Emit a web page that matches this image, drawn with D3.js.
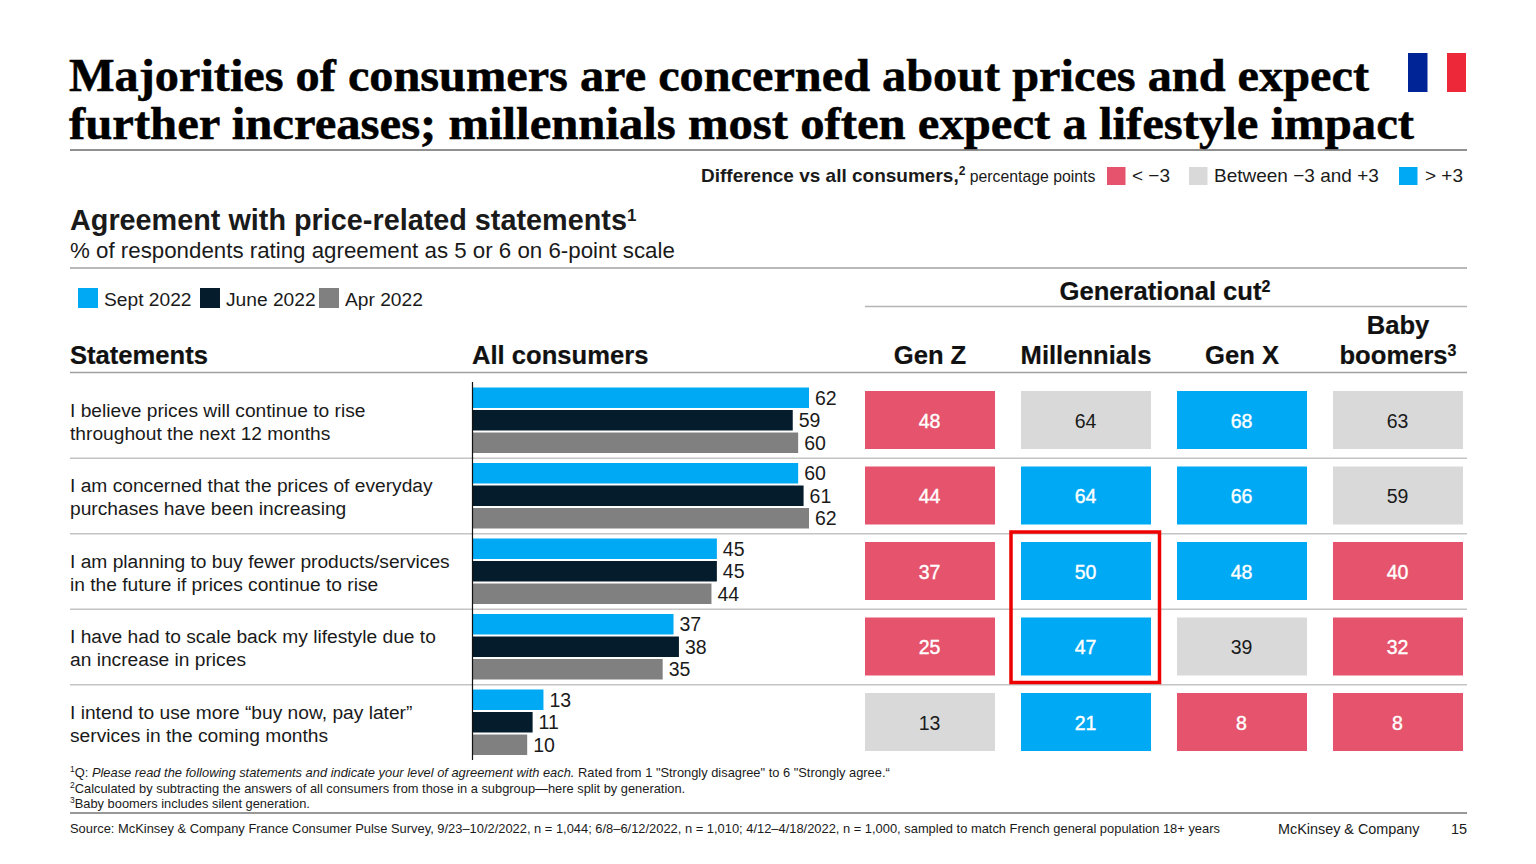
<!DOCTYPE html>
<html>
<head>
<meta charset="utf-8">
<script src="https://cdn.jsdelivr.net/npm/d3@7"></script>
<style>
    html, body { margin: 0; padding: 0; background: #fff; overflow: hidden; }
    svg { display: block; }
    text { font-family: "Liberation Sans", Arial, sans-serif; fill: #1a1a1a; }
    .title { font-family: "Liberation Serif", serif; font-weight: bold; font-size: 45.5px; fill: #000; stroke: #000; stroke-width: 0.5; }
    .head { font-weight: bold; font-size: 25.6px; fill: #111; stroke: #111; stroke-width: 0.2; }
</style>
</head>
<body>
<div id="chart"></div>
<script>
// data
const statements = [
    ["I believe prices will continue to rise", "throughout the next 12 months"],
    ["I am concerned that the prices of everyday", "purchases have been increasing"],
    ["I am planning to buy fewer products/services", "in the future if prices continue to rise"],
    ["I have had to scale back my lifestyle due to", "an increase in prices"],
    ["I intend to use more \u201Cbuy now, pay later\u201D", "services in the coming months"]
];
const waves = ["Sept 2022", "June 2022", "Apr 2022"];
const sept2022 = [62, 60, 45, 37, 13];
const june2022 = [59, 61, 45, 38, 11];
const apr2022 = [60, 62, 44, 35, 10];

const generations = ["Gen Z", "Millennials", "Gen X", "Baby boomers"];
const genZ = [48, 44, 37, 25, 13];
const millennials = [64, 64, 50, 47, 21];
const genX = [68, 66, 48, 39, 8];
const boomers = [63, 59, 40, 32, 8];

// difference class per cell: -1 below -3, 0 between, 1 above +3
const genZClass = [-1, -1, -1, -1, 0];
const millennialsClass = [0, 1, 1, 1, 1];
const genXClass = [1, 1, 1, 0, -1];
const boomersClass = [0, 0, -1, -1, -1];

const diffLabels = ["< \u22123", "Between \u22123 and +3", "> +3"];

const blue = "#00a9f4", navy = "#051c2c", grey = "#808080";
const red = "#e5546c", lightGrey = "#d9d9d9";

const svg = d3.select("#chart").append("svg").attr("width", 1536).attr("height", 864);

// text helper, parts are [string, {options}]
function label(x, y, parts, opts) {
    opts = opts || {};
    let t = svg.append("text").attr("x", x).attr("y", y)
        .attr("font-size", opts.size)
        .attr("font-weight", opts.weight)
        .attr("text-anchor", opts.anchor)
        .attr("class", opts.cls);
    if (opts.fill) t.style("fill", opts.fill);
    if (opts.fit) t.attr("textLength", opts.fit).attr("lengthAdjust", "spacingAndGlyphs");
    (typeof parts === "string" ? [[parts]] : parts).forEach(p => {
        let o = p[1] || {};
        let s = t.append("tspan").text(p[0]);
        if (o.sup) s.attr("baseline-shift", "super").attr("font-size", o.sup);
        if (o.italic) s.attr("font-style", "italic");
        if (o.weight) s.attr("font-weight", o.weight);
        if (o.size) s.attr("font-size", o.size);
    });
    return t;
}

function rule(x1, x2, y, color, w) {
    svg.append("line").attr("x1", x1).attr("x2", x2).attr("y1", y).attr("y2", y)
        .attr("stroke", color).attr("stroke-width", w);
}

// title, Georgia is not installed so the serif is stretched to the same width
label(69, 91, "Majorities of consumers are concerned about prices and expect", {cls: "title", fit: 1300});
label(69, 139, "further increases; millennials most often expect a lifestyle impact", {cls: "title", fit: 1345});
rule(70, 1467, 150, "#222", 1.2);

// flag
svg.append("rect").attr("x", 1408).attr("y", 53).attr("width", 19.5).attr("height", 39).attr("fill", "#002395");
svg.append("rect").attr("x", 1447).attr("y", 53).attr("width", 19).attr("height", 39).attr("fill", "#ed2939");

// difference legend
label(701, 182, [["Difference vs all consumers,", {weight: "bold", size: 19}], ["2", {sup: 12, weight: "bold"}], [" percentage points", {size: 15.8}]], {});
[[1107, red, 1132], [1189, lightGrey, 1214], [1399, blue, 1425]].forEach((d, i) => {
    svg.append("rect").attr("x", d[0]).attr("y", 167).attr("width", 18.5).attr("height", 18).attr("fill", d[1]);
    label(d[2], 182, diffLabels[i], {size: 19});
});

// subtitle
label(70, 230, [["Agreement with price-related statements", {}], ["1", {sup: 17}]], {size: 28.8, weight: "bold"});
label(70, 258, "% of respondents rating agreement as 5 or 6 on 6-point scale", {size: 22.3});
rule(70, 1467, 268, "#a0a0a0", 1.5);

// wave legend
[[78, blue, 104], [200, navy, 226], [319, grey, 345]].forEach((d, i) => {
    svg.append("rect").attr("x", d[0]).attr("y", 288).attr("width", 20).attr("height", 20).attr("fill", d[1]);
    label(d[2], 306, waves[i], {size: 19.2});
});

// column headers
label(1165, 300, [["Generational cut", {}], ["2", {sup: 16}]], {cls: "head", anchor: "middle"});
rule(865, 1467, 306.5, "#b5b5b5", 1.5);
label(70, 364, "Statements", {cls: "head"});
label(472, 364, "All consumers", {cls: "head"});

// scales
const rowScale = d3.scaleBand().domain(d3.range(statements.length)).range([383, 760.5]);
const waveScale = d3.scaleBand().domain(waves).range([4.5, 70]).paddingInner(0.09);
const xScale = d3.scaleLinear().domain([0, 62]).range([473, 809]);
const colScale = d3.scaleBand().domain(generations).range([865, 1463]).paddingInner(0.1665);

// column titles over the cells
const colCenter = g => colScale(g) + colScale.bandwidth() / 2;
label(colCenter("Gen Z"), 364, "Gen Z", {cls: "head", anchor: "middle"});
label(colCenter("Millennials"), 364, "Millennials", {cls: "head", anchor: "middle"});
label(colCenter("Gen X"), 364, "Gen X", {cls: "head", anchor: "middle"});
label(colCenter("Baby boomers"), 334, "Baby", {cls: "head", anchor: "middle"});
label(colCenter("Baby boomers"), 364, [["boomers", {}], ["3", {sup: 16}]], {cls: "head", anchor: "middle"});
rule(70, 1467, 372.5, "#a0a0a0", 1.5);

// row separators
d3.range(1, statements.length).forEach(i => rule(70, 1467, rowScale(i) - 0.2, "#c4c4c4", 1.5));

// statement labels
statements.forEach((lines, i) => {
    let c = rowScale(i) + rowScale.bandwidth() / 2;
    label(70, c - 4, lines[0], {size: 19.2});
    label(70, c + 19, lines[1], {size: 19.2});
});

// bars
const waveValues = [sept2022, june2022, apr2022];
const waveColors = [blue, navy, grey];
waves.forEach((w, k) => {
    let bars = svg.append("g").selectAll("g").data(waveValues[k]).join("g");
    bars.append("rect")
        .attr("x", xScale(0))
        .attr("y", (d, i) => rowScale(i) + waveScale(w))
        .attr("width", d => xScale(d) - xScale(0))
        .attr("height", waveScale.bandwidth())
        .attr("fill", waveColors[k]);
    bars.append("text")
        .attr("x", d => xScale(d) + 6)
        .attr("y", (d, i) => rowScale(i) + waveScale(w) + waveScale.bandwidth() / 2 + 7)
        .attr("font-size", 19.5)
        .text(d => d);
});
svg.append("line").attr("x1", 472.5).attr("x2", 472.5).attr("y1", 382).attr("y2", 760)
    .attr("stroke", "#111").attr("stroke-width", 1.2);

// generation cells
const cellValues = [genZ, millennials, genX, boomers];
const cellClasses = [genZClass, millennialsClass, genXClass, boomersClass];
const classColor = c => c < 0 ? red : (c > 0 ? blue : lightGrey);
generations.forEach((g, k) => {
    let cells = svg.append("g").selectAll("g").data(cellValues[k]).join("g");
    cells.append("rect")
        .attr("x", colScale(g))
        .attr("y", (d, i) => rowScale(i) + 8)
        .attr("width", colScale.bandwidth())
        .attr("height", 58)
        .attr("fill", (d, i) => classColor(cellClasses[k][i]));
    cells.append("text")
        .attr("x", (d, i) => colCenter(g) - 0.5)
        .attr("y", (d, i) => rowScale(i) + 44.5)
        .attr("text-anchor", "middle")
        .attr("font-size", 19.5)
        .style("fill", (d, i) => cellClasses[k][i] ? "#fff" : "#1a1a1a")
        .style("stroke", (d, i) => cellClasses[k][i] ? "#fff" : "none")
        .style("stroke-width", 0.4)
        .text(d => d);
});

// highlight box
svg.append("rect").attr("x", 1011).attr("y", 532).attr("width", 148.5).attr("height", 150.5)
    .attr("fill", "none").attr("stroke", "#ee0000").attr("stroke-width", 3.5);

// footnotes
label(70, 777, [["1", {sup: 8.5}], ["Q: ", {}], ["Please read the following statements and indicate your level of agreement with each.", {italic: true}], [" Rated from 1 \"Strongly disagree\" to 6 \"Strongly agree.\u201C", {}]], {size: 12.86});
label(70, 793, [["2", {sup: 8.5}], ["Calculated by subtracting the answers of all consumers from those in a subgroup\u2014here split by generation.", {}]], {size: 12.86});
label(70, 808, [["3", {sup: 8.5}], ["Baby boomers includes silent generation.", {}]], {size: 12.86});
rule(70, 1467, 813, "#333", 1.2);
label(70, 833, "Source: McKinsey & Company France Consumer Pulse Survey, 9/23\u201310/2/2022, n = 1,044; 6/8\u20136/12/2022, n = 1,010; 4/12\u20134/18/2022, n = 1,000, sampled to match French general population 18+ years", {size: 12.9});
label(1278, 834, "McKinsey & Company", {size: 14.4});
label(1467, 834, "15", {size: 14.4, anchor: "end"});
</script>
</body>
</html>
